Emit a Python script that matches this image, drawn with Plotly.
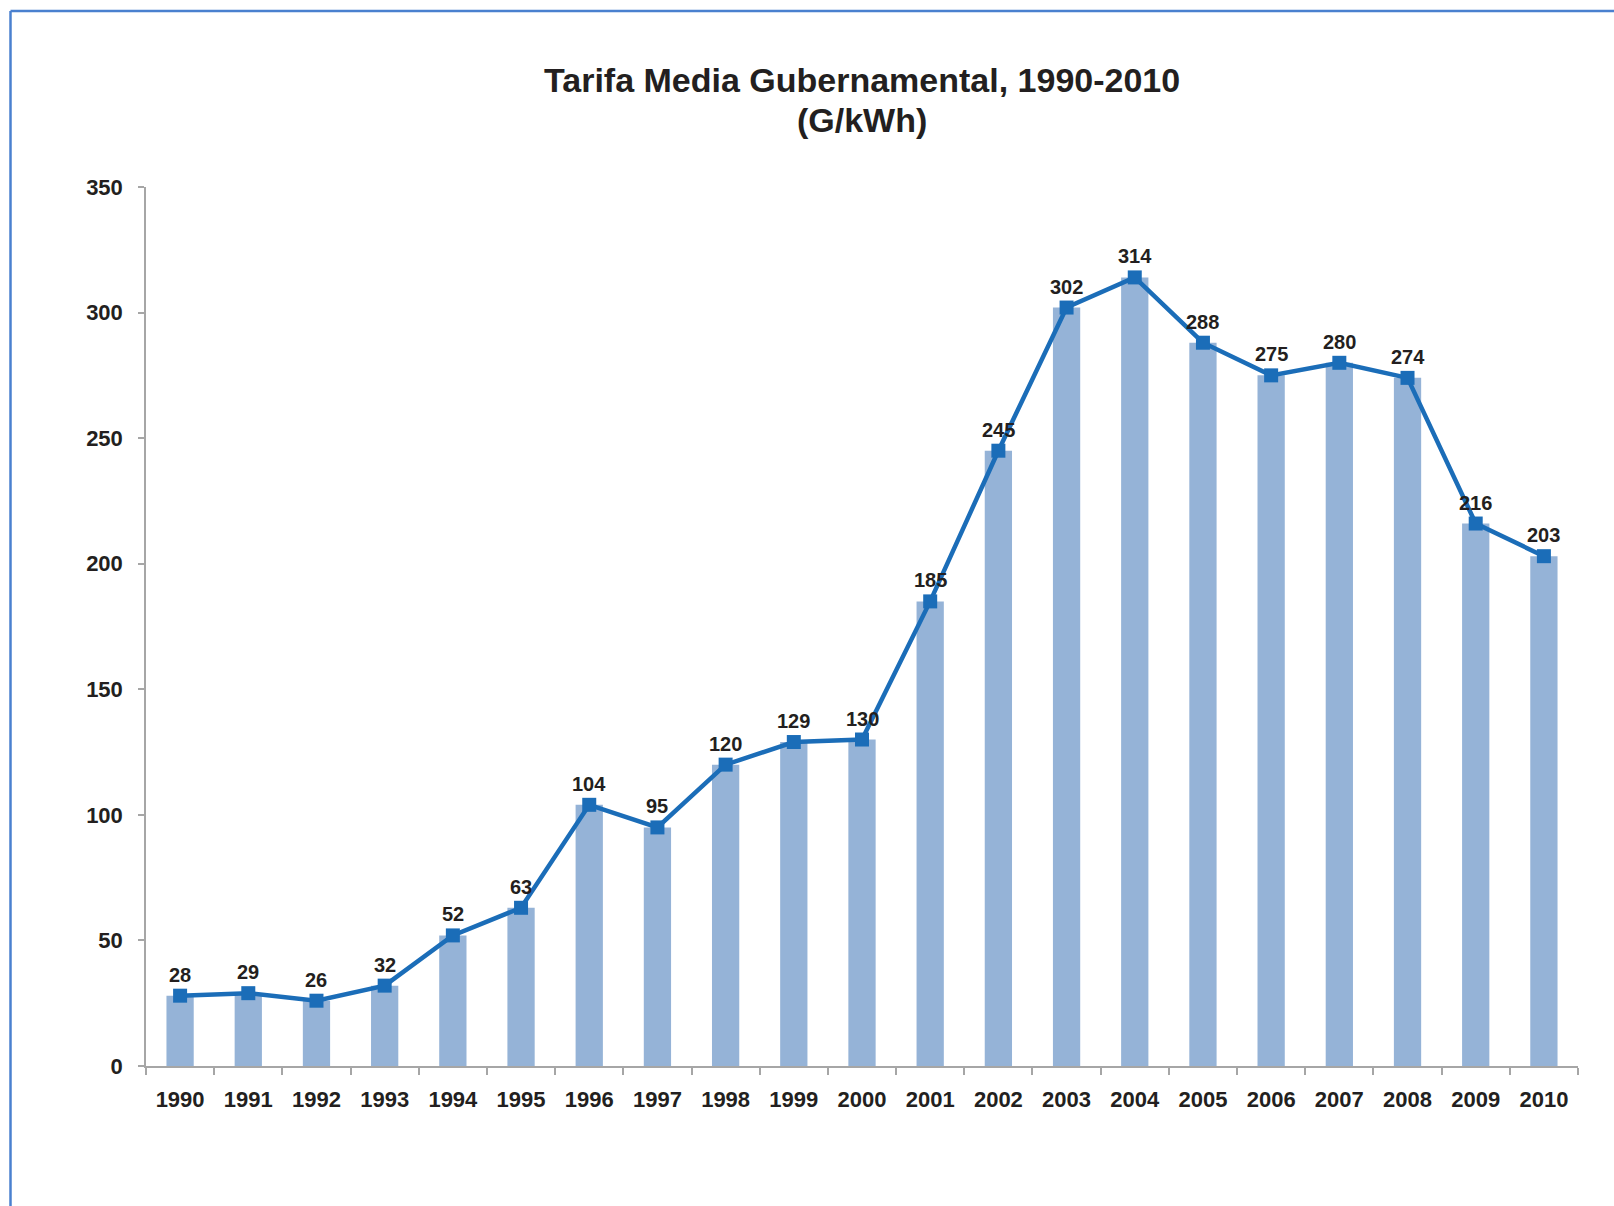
import plotly.graph_objects as go

# Average government tariff (G/kWh), 1990-2010
years = [str(y) for y in range(1990, 2011)]
tariff = [28, 29, 26, 32, 52, 63, 104, 95, 120, 129, 130,
          185, 245, 302, 314, 288, 275, 280, 274, 216, 203]
y_ticks = [0, 50, 100, 150, 200, 250, 300, 350]
title_lines = ["Tarifa Media Gubernamental, 1990-2010", "(G/kWh)"]

BAR_COLOR = "#95B3D7"
LINE_COLOR = "#1B6DB8"
TEXT_COLOR = "#231F20"
AXIS_COLOR = "#A6A6A6"
FONT = "Liberation Sans, Arial, sans-serif"

W, H = 1614, 1206
L, R, T, B = 146, 36, 187, 140
pw, ph = W - L - R, H - T - B

fig = go.Figure()
fig.add_trace(go.Bar(
    x=years, y=tariff, width=0.4,
    marker=dict(color=BAR_COLOR, line=dict(width=0)),
    hoverinfo="skip", showlegend=False,
))
fig.add_trace(go.Scatter(
    x=years, y=tariff, mode="lines+markers",
    line=dict(color=LINE_COLOR, width=4.5),
    marker=dict(symbol="square", size=14, color=LINE_COLOR),
    showlegend=False,
))

# value labels above each point (x given as category index)
for i, v in enumerate(tariff):
    fig.add_annotation(
        x=i, y=v, xref="x", yref="y", text=f"<b>{v}</b>", showarrow=False,
        yshift=21, yanchor="middle", xanchor="center",
        font=dict(family=FONT, size=20, color=TEXT_COLOR),
    )

# two-line title, centred over the plot area
for line, ypix, in zip(title_lines, [80, 120]):
    fig.add_annotation(
        x=0.5, y=(H - B - ypix) / ph, xref="paper", yref="paper",
        text=f"<b>{line}</b>", showarrow=False,
        xanchor="center", yanchor="middle",
        font=dict(family=FONT, size=34, color=TEXT_COLOR),
    )

# outer frame (left and top edges)
bx0 = (10.5 - L) / pw
by1 = (H - B - 11) / ph
by0 = -B / ph
bx1 = (W - L) / pw
frame = dict(color="#4A80CF", width=2.5)
fig.add_shape(type="line", xref="paper", yref="paper",
              x0=bx0, x1=bx0, y0=by0, y1=by1, line=frame)
fig.add_shape(type="line", xref="paper", yref="paper",
              x0=bx0, x1=bx1, y0=by1, y1=by1, line=frame)

fig.update_layout(
    width=W, height=H,
    margin=dict(l=L, r=R, t=T, b=B),
    paper_bgcolor="white", plot_bgcolor="white",
    font=dict(family=FONT, color=TEXT_COLOR),
    xaxis=dict(
        type="category", tickson="boundaries", range=[-0.5, len(years) - 0.5],
        tickvals=years, ticktext=[f"<b>{y}</b>" for y in years],
        ticks="outside", ticklen=7, tickcolor=AXIS_COLOR, tickwidth=1.5,
        showline=True, linecolor=AXIS_COLOR, linewidth=1.5,
        showgrid=False, zeroline=False,
        tickfont=dict(family=FONT, size=22, color=TEXT_COLOR),
        ticklabelstandoff=13,
    ),
    yaxis=dict(
        range=[0, 350], tickvals=y_ticks,
        ticktext=[f"<b>{v}</b>" for v in y_ticks],
        ticks="outside", ticklen=6, tickcolor=AXIS_COLOR, tickwidth=1.5,
        showline=True, linecolor=AXIS_COLOR, linewidth=1.5,
        showgrid=False, zeroline=False,
        tickfont=dict(family=FONT, size=22, color=TEXT_COLOR),
        ticklabelstandoff=11,
    ),
)

fig.write_html("out.html")
